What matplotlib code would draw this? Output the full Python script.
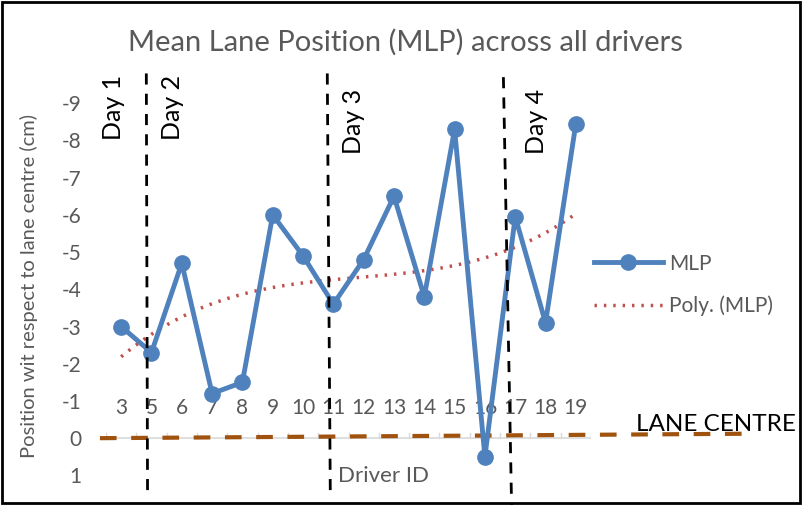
import matplotlib
matplotlib.use("Agg")
import numpy as np
import matplotlib.pyplot as plt
from matplotlib.patches import Rectangle
from matplotlib.lines import Line2D

# mean lane position per driver (cm, negative = left of centre)
drivers = ["3", "5", "6", "7", "8", "9", "10", "11", "12", "13", "14", "15", "16", "17", "18", "19"]
mlp = [-3.0, -2.3, -4.7, -1.2, -1.5, -6.0, -4.9, -3.6, -4.8, -6.5, -3.8, -8.3, 0.5, -5.95, -3.1, -8.45]
day_labels = ["Day 1", "Day 2", "Day 3", "Day 4"]
y_ticks = [-9, -8, -7, -6, -5, -4, -3, -2, -1, 0, 1]

BLUE = "#4F81BD"
RED = "#C0504D"
BROWN = "#A0520F"
GREY = "#595959"

plt.rcParams["font.family"] = ["Lato", "DejaVu Sans"]

W, H = 802, 505
fig = plt.figure(figsize=(W / 100, H / 100), dpi=100)
fig.patch.set_facecolor("white")

# plot area: category centres 3..19 sit at 121..576 px, y 1..-10 over 494..66 px
x0, x1 = 106, 591
y_lo, y_hi = 1.5, -10.0
pb, pt = 494, 66
ax = fig.add_axes([x0 / W, (H - pb) / H, (x1 - x0) / W, (pb - pt) / H])
ax.set_xlim(-0.5, len(drivers) - 0.5)
ax.set_ylim(y_lo, y_hi)
for s in ax.spines.values():
    s.set_visible(False)

xs = np.arange(len(drivers))

# category axis drawn at y = 0, labels just above it
ax.axhline(0, color="#D9D9D9", lw=1.2, zorder=1)
for b in np.arange(len(drivers) + 1) - 0.5:
    ax.plot([b, b], [0, -0.15], color="#D9D9D9", lw=1, zorder=1)
for i, d in enumerate(drivers):
    ax.text(i, -0.8, d, ha="center", va="center", fontsize=15, color=GREY)
ax.set_xticks([])

ax.set_yticks(y_ticks)
ax.set_yticklabels([str(v) for v in y_ticks], fontsize=15, color=GREY)
ax.tick_params(axis="y", length=0, pad=18)
ax.set_ylabel("Position wit respect to lane centre (cm)", fontsize=14.5, color=GREY)
ax.yaxis.set_label_coords(-0.14, 0.485)

# lane centre reference
ax.plot([-0.7, 20.7], [0.0, -0.12], color=BROWN, lw=3, dashes=(4, 3.5), clip_on=False, zorder=2)
ax.text(17.0, -0.38, "LANE CENTRE", fontsize=17.5, color="black", va="center", ha="left")

# cubic trend of MLP against driver order
coef = np.polyfit(xs + 1, mlp, 3)
xf = np.linspace(0, len(drivers) - 1, 200)
ax.plot(xf, np.polyval(coef, xf + 1), color=RED, lw=2.5, ls=(0, (0.7, 2.0)), zorder=3)

ax.plot(xs, mlp, color=BLUE, lw=3.5, marker="o", ms=11, zorder=4)

# day separators
for (xa, ya), (xb, yb) in [((0.83, -9.8), (0.87, 1.45)),
                           ((6.80, -9.8), (6.90, 1.55)),
                           ((12.61, -9.7), (12.88, 1.8))]:
    ax.plot([xa, xb], [ya, yb], color="black", lw=2, dashes=(4, 3.3), clip_on=False, zorder=5)

for (dx, dy), lab in zip([(-0.25, -8.9), (1.7, -8.9), (7.65, -8.5), (13.7, -8.5)], day_labels):
    ax.text(dx, dy, lab, rotation=90, ha="center", va="center", fontsize=18, color="black")

fig.text(383 / W, 1 - 476 / H, "Driver ID", fontsize=16, color=GREY, ha="center", va="center")
fig.text(405 / W, 1 - 42 / H, "Mean Lane Position (MLP) across all drivers",
         fontsize=21, color=GREY, ha="center", va="center")

handles = [Line2D([], [], color=BLUE, lw=3.5, marker="o", ms=11),
           Line2D([], [], color=RED, lw=2.5, ls=(0, (0.7, 2.0)))]
fig.legend(handles, ["MLP", "Poly. (MLP)"], loc="center left",
           bbox_to_anchor=(575 / W, 1 - 285 / H), frameon=False, fontsize=15,
           handlelength=3.3, handletextpad=0.3, labelspacing=1.05, labelcolor=GREY)

fig.add_artist(Rectangle((0.002, 0.003), 0.995, 0.994, transform=fig.transFigure,
                         fill=False, edgecolor="black", lw=2))

fig.savefig("out.png", dpi=100, facecolor="white")
